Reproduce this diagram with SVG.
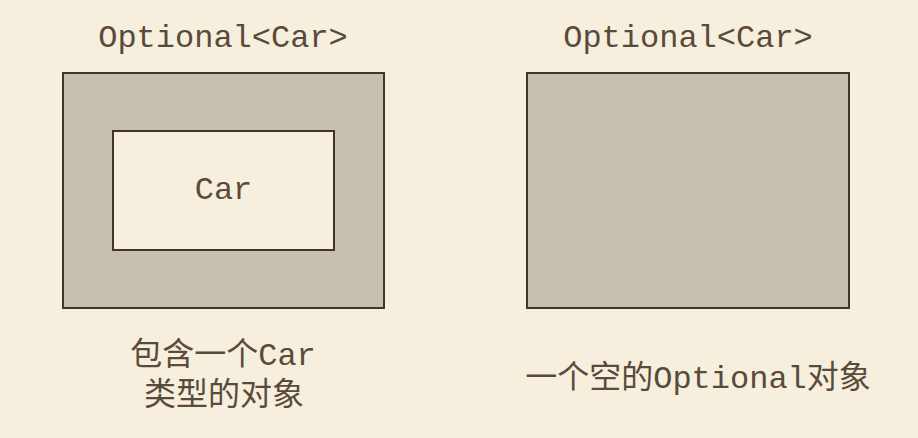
<svg xmlns="http://www.w3.org/2000/svg" width="918" height="438" viewBox="0 0 918 438">
<style>
.t{font-family:"Liberation Mono","Noto Sans CJK SC",monospace;font-size:32px;fill:#5a4a3b;text-anchor:middle}
.box{fill:#c7bfad;stroke:#45342a;stroke-width:2}
.inner{fill:#f6efdd;stroke:#45342a;stroke-width:2}
</style>
<rect width="918" height="438" fill="#f6efdd"/>
<g id="present">
<text class="t" x="223" y="47">Optional&lt;Car&gt;</text>
<rect class="box" x="63" y="73" width="321" height="235"/>
</g>
<g id="car">
<rect class="inner" x="113" y="131" width="221" height="119"/>
<text class="t" x="223.5" y="199">Car</text>
</g>
<g id="empty">
<text class="t" x="688" y="47">Optional&lt;Car&gt;</text>
<rect class="box" x="527" y="73" width="322" height="235"/>
</g>
<g id="labels">
<text class="t" x="223" y="365">包含一个Car</text>
<text class="t" x="224" y="405">类型的对象</text>
<text class="t" x="698" y="388">一个空的Optional对象</text>
</g>
<g id="connectors"/>
</svg>
